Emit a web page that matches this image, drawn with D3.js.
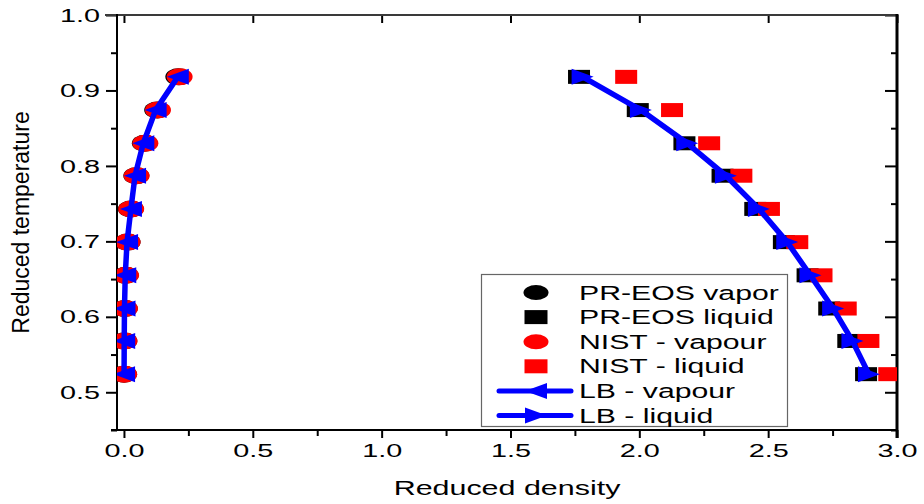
<!DOCTYPE html>
<html>
<head>
<meta charset="utf-8">
<script src="https://cdn.jsdelivr.net/npm/d3@7"></script>
<style>
  html, body { margin: 0; padding: 0; background: #fff; }
  svg { display: block; font-family: "Liberation Sans", Arial, sans-serif; }
</style>
</head>
<body>
<svg id="chart" width="924" height="504"></svg>
<script>
// Reduced temperature of each coexistence point
const temperature = [0.918, 0.874, 0.830, 0.787, 0.743, 0.699, 0.655, 0.611, 0.568, 0.524];

// Reduced densities on the vapour and liquid branches
const prEosVapor   = [0.211, 0.129, 0.081, 0.048, 0.027, 0.014, 0.007, 0.003, 0.0015, 0.0006];
const prEosLiquid  = [1.766, 1.994, 2.175, 2.323, 2.450, 2.561, 2.653, 2.737, 2.811, 2.880];
const nistVapour   = [0.216, 0.132, 0.083, 0.049, 0.028, 0.014, 0.008, 0.004, 0.002, 0.0008];
const nistLiquid   = [1.949, 2.127, 2.271, 2.396, 2.503, 2.613, 2.707, 2.801, 2.889, 2.970];
const lbVapour     = [0.209, 0.123, 0.075, 0.043, 0.027, 0.012, 0.005, 0.002, 0.001, 0.0005];
const lbLiquid     = [1.780, 2.006, 2.186, 2.336, 2.464, 2.574, 2.664, 2.752, 2.827, 2.891];

// Axis ticks
const xMajor = [0.0, 0.5, 1.0, 1.5, 2.0, 2.5, 3.0];
const xMinor = [0.25, 0.75, 1.25, 1.75, 2.25, 2.75];
const yMajor = [0.5, 0.6, 0.7, 0.8, 0.9, 1.0];
const yMinor = [0.45, 0.55, 0.65, 0.75, 0.85, 0.95];

const legendLabels = ["PR-EOS vapor", "PR-EOS liquid", "NIST - vapour", "NIST - liquid", "LB - vapour", "LB - liquid"];

const svg = d3.select("#chart");
const pLeft = 117, pRight = 897, pTop = 15, pBottom = 430;
const x = d3.scaleLinear().domain([-0.027, 3.0]).range([pLeft, pRight]);
const y = d3.scaleLinear().domain([0.45, 1.0]).range([pBottom, pTop]);

const BLUE = "#0000ff", RED = "#ff0000";
const SX = 1.6; // horizontal stretch of the horizontal lettering

svg.append("defs").append("clipPath").attr("id", "plotClip")
  .append("rect").attr("x", pLeft).attr("y", pTop)
  .attr("width", pRight - pLeft).attr("height", pBottom - pTop);

// ---- axes ----
function fmt(v) { return v.toFixed(1); }

// bottom axis: ticks outward
const gx = svg.append("g").attr("transform", `translate(0,${pBottom})`);
gx.call(d3.axisBottom(x).tickValues(xMajor).tickSize(8).tickFormat(fmt));
gx.append("g").call(d3.axisBottom(x).tickValues(xMinor).tickSize(6).tickFormat(""));
gx.selectAll(".domain").remove();
gx.selectAll("line").attr("stroke", "#000").attr("stroke-width", 2);
gx.selectAll("text")
  .attr("font-size", 18).attr("fill", "#000")
  .attr("y", 14).attr("dy", "0.71em")
  .attr("transform", `scale(${SX},1)`);

// top axis: short inward major ticks
const gt = svg.append("g").attr("transform", `translate(0,${pTop})`);
gt.call(d3.axisBottom(x).tickValues(xMajor).tickSize(8).tickFormat(""));
gt.selectAll(".domain").remove();
gt.selectAll("line").attr("stroke", "#000").attr("stroke-width", 2);

// left axis: ticks outward
const gy = svg.append("g").attr("transform", `translate(${pLeft},0)`);
gy.call(d3.axisLeft(y).tickValues(yMajor).tickSize(11).tickFormat(fmt));
gy.append("g").call(d3.axisLeft(y).tickValues(yMinor).tickSize(6).tickFormat(""));
gy.selectAll(".domain").remove();
gy.selectAll("line").attr("stroke", "#000").attr("stroke-width", 2);
gy.selectAll("text")
  .attr("font-size", 18).attr("fill", "#000")
  .attr("x", -17 / SX).attr("dy", "0.34em")
  .attr("transform", `scale(${SX},1)`);

// right axis: ticks inward
const gr = svg.append("g").attr("transform", `translate(${pRight},0)`);
gr.call(d3.axisLeft(y).tickValues(yMajor).tickSize(12).tickFormat(""));
gr.append("g").call(d3.axisLeft(y).tickValues(yMinor).tickSize(6).tickFormat(""));
gr.selectAll(".domain").remove();
gr.selectAll("line").attr("stroke", "#000").attr("stroke-width", 2);

// frame
svg.append("line").attr("x1", pLeft - 12).attr("x2", pRight + 1).attr("y1", pTop).attr("y2", pTop)
  .attr("stroke", "#3a3a3a").attr("stroke-width", 2);
svg.append("line").attr("x1", pLeft - 6).attr("x2", pRight + 1).attr("y1", pBottom).attr("y2", pBottom)
  .attr("stroke", "#000").attr("stroke-width", 2);
svg.append("line").attr("x1", pLeft).attr("x2", pLeft).attr("y1", pTop - 1).attr("y2", pBottom + 1)
  .attr("stroke", "#000").attr("stroke-width", 2);
svg.append("line").attr("x1", pRight).attr("x2", pRight).attr("y1", pTop - 1).attr("y2", pBottom + 8)
  .attr("stroke", "#000").attr("stroke-width", 3);

// axis titles
svg.append("text")
  .attr("transform", `translate(${(pLeft + pRight) / 2},495) scale(1.45,1)`)
  .attr("text-anchor", "middle").attr("font-size", 21).attr("fill", "#000")
  .text("Reduced density");
svg.append("text")
  .attr("transform", `translate(29,${(pTop + pBottom) / 2}) rotate(-90)`)
  .attr("text-anchor", "middle").attr("font-size", 23).attr("fill", "#000")
  .text("Reduced temperature");

// ---- data ----
const plot = svg.append("g").attr("clip-path", "url(#plotClip)");
const rows = temperature.map((t, i) => ({
  t, prV: prEosVapor[i], prL: prEosLiquid[i], nV: nistVapour[i], nL: nistLiquid[i],
  lbV: lbVapour[i], lbL: lbLiquid[i]
}));

const RX = 13, RY = 8.5;   // circle marker half sizes
const SW = 22, SH = 14;    // square marker sizes
const triLeft  = "M11,-8L-11,0L11,8Z";
const triRight = "M-11,-8L11,0L-11,8Z";

function ellipses(key, color) {
  plot.append("g").selectAll("ellipse").data(rows).join("ellipse")
    .attr("cx", d => x(d[key])).attr("cy", d => y(d.t))
    .attr("rx", RX).attr("ry", RY).attr("fill", color);
}
function squares(key, color) {
  plot.append("g").selectAll("rect").data(rows).join("rect")
    .attr("x", d => x(d[key]) - SW / 2).attr("y", d => y(d.t) - SH / 2)
    .attr("width", SW).attr("height", SH).attr("fill", color);
}
function lbSeries(key, tri) {
  const line = d3.line().x(d => x(d[key])).y(d => y(d.t));
  plot.append("path").datum(rows).attr("d", line)
    .attr("fill", "none").attr("stroke", BLUE).attr("stroke-width", 5.5)
    .attr("stroke-linejoin", "round").attr("stroke-linecap", "round");
  plot.append("g").selectAll("path").data(rows).join("path")
    .attr("transform", d => `translate(${x(d[key])},${y(d.t)})`)
    .attr("d", tri).attr("fill", BLUE);
}

ellipses("prV", "#000");
squares("prL", "#000");
ellipses("nV", RED);
squares("nL", RED);
lbSeries("lbV", triLeft);
lbSeries("lbL", triRight);

// ---- legend ----
const lg = svg.append("g");
lg.append("rect").attr("x", 481.5).attr("y", 274.5).attr("width", 306).attr("height", 152)
  .attr("fill", "#fff").attr("stroke", "#666").attr("stroke-width", 1.2);
const ly = i => 292.5 + i * 24.6;
const symX = 536;
lg.append("ellipse").attr("cx", symX).attr("cy", ly(0)).attr("rx", 12.5).attr("ry", 7.5).attr("fill", "#000");
lg.append("rect").attr("x", symX - 11.5).attr("y", ly(1) - 7).attr("width", 23).attr("height", 14).attr("fill", "#000");
lg.append("ellipse").attr("cx", symX).attr("cy", ly(2)).attr("rx", 12.5).attr("ry", 7.5).attr("fill", RED);
lg.append("rect").attr("x", symX - 11.5).attr("y", ly(3) - 7).attr("width", 23).attr("height", 14).attr("fill", RED);
[[4, triLeft], [5, triRight]].forEach(([i, tri]) => {
  lg.append("line").attr("x1", 499).attr("x2", 571).attr("y1", ly(i)).attr("y2", ly(i))
    .attr("stroke", BLUE).attr("stroke-width", 5).attr("stroke-linecap", "round");
  lg.append("path").attr("transform", `translate(${symX},${ly(i)})`).attr("d", tri).attr("fill", BLUE);
});
lg.selectAll("text.lab").data(legendLabels).join("text").attr("class", "lab")
  .attr("transform", (d, i) => `translate(579,${ly(i)}) scale(1.55,1)`)
  .attr("dy", "0.36em").attr("font-size", 19.5).attr("fill", "#000")
  .text(d => d);
</script>
</body>
</html>
